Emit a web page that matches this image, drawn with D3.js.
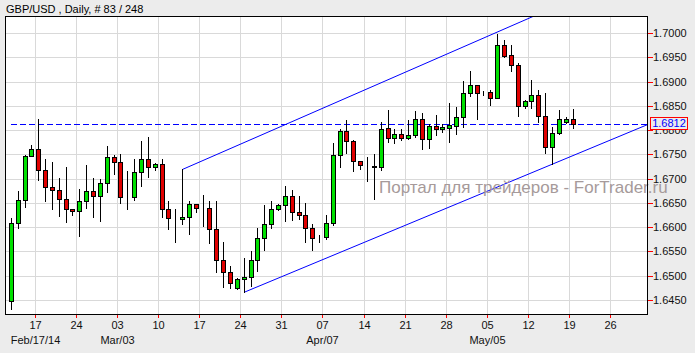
<!DOCTYPE html>
<html><head><meta charset="utf-8">
<script src="https://cdn.jsdelivr.net/npm/d3@7"></script>
<style>html,body{margin:0;padding:0;background:#ececec;} svg{display:block;}</style>
</head><body><svg id="c" width="695" height="353"></svg>
<script>
// ---------- data ----------
const title = "GBP/USD , Daily, # 83 / 248";
const openP  = [1.6447,1.6608,1.6656,1.6747,1.6762,1.6717,1.6682,1.6677,1.6659,1.6638,1.6633,1.6654,1.6674,1.6665,1.6690,1.6744,1.6734,1.6663,1.6663,1.6713,1.6740,1.6725,1.6730,1.6637,1.6617,1.6617,1.6620,1.6647,1.6640,1.6639,1.6596,1.6532,1.6507,1.6475,1.6493,1.6497,1.6532,1.6577,1.6606,1.6637,1.6646,1.6664,1.6631,1.6626,1.6598,1.6577,1.6579,1.6608,1.6748,1.6799,1.6777,1.6736,1.6728,1.6727,1.6723,1.6804,1.6783,1.6791,1.6784,1.6789,1.6822,1.6782,1.6808,1.6802,1.6805,1.6809,1.6826,1.6876,1.6892,1.6876,1.6878,1.6867,1.6975,1.6955,1.6934,1.6850,1.6859,1.6872,1.6830,1.6766,1.6793,1.6817,1.6822];
const highP  = [1.6618,1.6675,1.6749,1.6769,1.6823,1.6740,1.6735,1.6702,1.6724,1.6638,1.6679,1.6728,1.6701,1.6699,1.6767,1.6749,1.6751,1.6716,1.6740,1.6777,1.6785,1.6733,1.6740,1.6653,1.6637,1.6719,1.6653,1.6647,1.6666,1.6653,1.6653,1.6569,1.6520,1.6495,1.6537,1.6551,1.6598,1.6646,1.6653,1.6647,1.6685,1.6677,1.6664,1.6649,1.6606,1.6584,1.6625,1.6773,1.6802,1.6821,1.6779,1.6737,1.6744,1.6750,1.6817,1.6841,1.6802,1.6802,1.6821,1.6839,1.6836,1.6812,1.6832,1.6813,1.6855,1.6847,1.6901,1.6922,1.6893,1.6881,1.6883,1.6998,1.6986,1.6975,1.6938,1.6861,1.6903,1.6883,1.6877,1.6806,1.6841,1.6826,1.6843];
const lowP   = [1.6431,1.6599,1.6642,1.6747,1.6697,1.6653,1.6637,1.6624,1.6611,1.6625,1.6582,1.6640,1.6620,1.6613,1.6673,1.6710,1.6650,1.6638,1.6655,1.6685,1.6704,1.6717,1.6620,1.6596,1.6569,1.6606,1.6585,1.6632,1.6603,1.6567,1.6508,1.6477,1.6475,1.6472,1.6466,1.6479,1.6510,1.6554,1.6598,1.6636,1.6613,1.6615,1.6617,1.6570,1.6554,1.6570,1.6575,1.6605,1.6723,1.6753,1.6716,1.6719,1.6696,1.6659,1.6718,1.6776,1.6773,1.6780,1.6782,1.6785,1.6762,1.6764,1.6790,1.6797,1.6776,1.6792,1.6807,1.6871,1.6822,1.6873,1.6852,1.6866,1.6950,1.6922,1.6830,1.6845,1.6845,1.6817,1.6753,1.6731,1.6792,1.6814,1.6805];
const closeP = [1.6608,1.6656,1.6747,1.6762,1.6717,1.6682,1.6676,1.6659,1.6637,1.6633,1.6654,1.6674,1.6665,1.6690,1.6744,1.6734,1.6663,1.6663,1.6713,1.6740,1.6723,1.6730,1.6637,1.6618,1.6617,1.6621,1.6647,1.6639,1.6640,1.6596,1.6532,1.6507,1.6486,1.6493,1.6497,1.6532,1.6577,1.6606,1.6637,1.6646,1.6664,1.6631,1.6626,1.6598,1.6577,1.6577,1.6608,1.6748,1.6799,1.6777,1.6736,1.6729,1.6728,1.6723,1.6802,1.6783,1.6791,1.6784,1.6789,1.6822,1.6782,1.6808,1.6802,1.6807,1.6810,1.6826,1.6876,1.6892,1.6876,1.6876,1.6867,1.6975,1.6953,1.6934,1.6850,1.6860,1.6872,1.6830,1.6766,1.6793,1.6822,1.6822,1.6812];
const priceTicks = [1.6450,1.6500,1.6550,1.6600,1.6650,1.6700,1.6750,1.6800,1.6850,1.6900,1.6950,1.7000];
const dayLabels = ["17","24","03","10","17","24","31","07","14","21","28","05","12","19","26"];
const weekTickBars = [3.5,9.5,15.5,21.5,27.5,33.5,39.5,45.5,51.5,57.5,63.5,69.5,75.5,81.5,87.5];
const monthLabels = ["Feb/17/14","Mar/03","Apr/07","May/05"];
const monthLabelBars = [3.5,15.5,45.5,69.5];
const lastPrice = 1.6812;
const upperLine = {bars:[25,82], prices:[1.6719,1.7070]};
const lowerLine = {bars:[34,93], prices:[1.6466,1.6812]};
const watermark = "Портал для трейдеров - ForTrader.ru";

// ---------- layout ----------
const L=5, R=647, T=16, B=314;
const svg = d3.select("#c");
const font = "'Liberation Sans', Arial, sans-serif";
svg.append("rect").attr("width",695).attr("height",353).attr("fill","#ececec");

const x = d3.scaleLinear().domain([-0.92, 92.8]).range([L, R]);
const y = d3.scaleLinear().domain([1.64212, 1.70350]).range([B, T]);
const px = v => Math.floor(x(v)) + 0.5;
const py = v => Math.round(y(v)) + 0.5;

svg.append("rect").attr("x",L+0.5).attr("y",T+0.5).attr("width",R-L).attr("height",B-T).attr("fill","#fff");
svg.append("defs").append("clipPath").attr("id","clip").append("rect")
  .attr("x",L+1).attr("y",T+1).attr("width",R-L-1).attr("height",B-T-1);

// grid
const g = svg.append("g").attr("clip-path","url(#clip)");
g.selectAll("line.hg").data(priceTicks).join("line")
  .attr("x1",L).attr("x2",R).attr("y1",d=>py(d)).attr("y2",d=>py(d))
  .attr("stroke","#d9d9d9").attr("stroke-width",1);
g.selectAll("line.vg").data(weekTickBars).join("line")
  .attr("x1",d=>px(d)).attr("x2",d=>px(d)).attr("y1",T).attr("y2",B)
  .attr("stroke","#d9d9d9").attr("stroke-width",1);

// last price dashed line
g.append("line").attr("x1",L+6).attr("x2",R).attr("y1",py(lastPrice)).attr("y2",py(lastPrice))
  .attr("stroke","#0000ff").attr("stroke-dasharray","6,3").attr("stroke-width",1);

// channel lines
const line = d3.line().x(d=>x(d[0])).y(d=>y(d[1]));
[upperLine, lowerLine].forEach(l => {
  g.append("path").attr("d", line(l.bars.map((b,i)=>[b,l.prices[i]])))
    .attr("fill","none").attr("stroke","#0000ff").attr("stroke-width",1);
});

// watermark
svg.append("text").attr("x",379).attr("y",193).text(watermark)
  .attr("font-family",font).attr("font-size",17).attr("fill","#a69a9a");

// candles
const bars = d3.range(openP.length);
const cg = g.append("g");
cg.selectAll("line.w").data(bars).join("line")
  .attr("x1",i=>px(i)).attr("x2",i=>px(i))
  .attr("y1",i=>Math.round(y(highP[i]))).attr("y2",i=>Math.round(y(lowP[i]))+1)
  .attr("stroke","#000").attr("stroke-width",1);
cg.selectAll("rect.b").data(bars).join("rect")
  .attr("x",i=>px(i)-2).attr("width",4)
  .attr("y",i=>py(Math.max(openP[i],closeP[i])))
  .attr("height",i=>py(Math.min(openP[i],closeP[i]))-py(Math.max(openP[i],closeP[i])))
  .attr("fill",i=>closeP[i]>openP[i]?"#00e000":(closeP[i]<openP[i]?"#e00000":"#000"))
  .attr("stroke","#000").attr("stroke-width",1);

// frame
svg.append("rect").attr("x",L+0.5).attr("y",T+0.5).attr("width",R-L).attr("height",B-T)
  .attr("fill","none").attr("stroke","#000").attr("stroke-width",1);

// y axis
const ya = svg.append("g");
ya.selectAll("line").data(priceTicks).join("line")
  .attr("x1",R+1).attr("x2",R+6).attr("y1",d=>py(d)).attr("y2",d=>py(d))
  .attr("stroke","#ff0000");
ya.selectAll("text").data(priceTicks).join("text")
  .attr("x",R+6).attr("y",d=>py(d)).attr("dy","0.36em")
  .text(d=>d.toFixed(4)).attr("font-family",font).attr("font-size",11).attr("fill","#111");

// x axis
const xa = svg.append("g");
xa.selectAll("line").data(weekTickBars).join("line")
  .attr("x1",d=>px(d)).attr("x2",d=>px(d)).attr("y1",B+1).attr("y2",B+4)
  .attr("stroke","#ff0000");
xa.selectAll("text.d").data(dayLabels).join("text")
  .attr("x",(d,i)=>px(weekTickBars[i])).attr("y",329).attr("text-anchor","middle")
  .text(d=>d).attr("font-family",font).attr("font-size",11).attr("fill","#111");
xa.selectAll("text.m").data(monthLabels).join("text")
  .attr("x",(d,i)=>px(monthLabelBars[i])).attr("y",344).attr("text-anchor","middle")
  .text(d=>d).attr("font-family",font).attr("font-size",11).attr("fill","#111");

// last price box
const ly = py(lastPrice);
svg.append("rect").attr("x",650.5).attr("y",ly-7).attr("width",37).attr("height",12)
  .attr("fill","#ececec").attr("stroke","#ff0000");
svg.append("text").attr("x",669).attr("y",ly-1).attr("dy","0.36em").attr("text-anchor","middle")
  .text(lastPrice.toFixed(4)).attr("font-family",font).attr("font-size",11).attr("fill","#0000ff");

// title
svg.append("text").attr("x",6).attr("y",13).text(title)
  .attr("font-family",font).attr("font-size",11).attr("fill","#000");
</script></body></html>
